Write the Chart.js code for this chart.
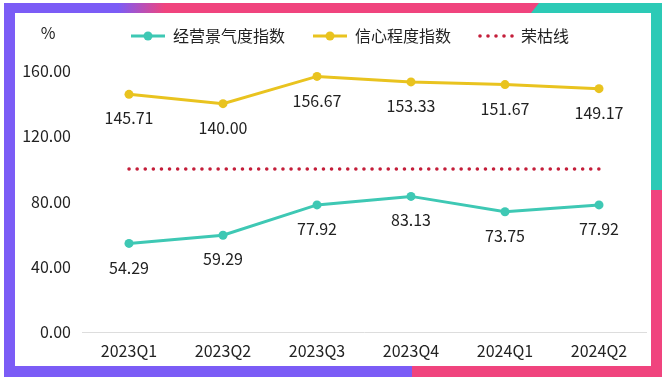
<!DOCTYPE html>
<html>
<head>
<meta charset="utf-8">
<script src="https://cdn.jsdelivr.net/npm/chart.js@4.4.1/dist/chart.umd.min.js"></script>
<style>
  body { margin: 0; background: #fff; }
  #wrap { width: 668px; height: 382px; position: relative; }
</style>
</head>
<body>
<div id="wrap"><canvas id="indexChart"></canvas></div>
<script>
// data
const quarters = ['2023Q1', '2023Q2', '2023Q3', '2023Q4', '2024Q1', '2024Q2'];
const businessIndex = [54.29, 59.29, 77.92, 83.13, 73.75, 77.92];
const confidenceIndex = [145.71, 140.00, 156.67, 153.33, 151.67, 149.17];
const boomLine = [100, 100, 100, 100, 100, 100];
const yTicks = [0, 40, 80, 120, 160];

const FONT = '"Noto Sans CJK SC", "Noto Sans", sans-serif';
const TEAL = '#3ec8b4';
const YELLOW = '#e9c31f';
const RED = '#c41e3a';

// legend symbols: line with a dot, or a row of dots
function lineIcon(color) {
    const c = document.createElement('canvas');
    c.width = 34; c.height = 10;
    const g = c.getContext('2d');
    g.strokeStyle = color; g.lineWidth = 3;
    g.beginPath(); g.moveTo(0, 5); g.lineTo(34, 5); g.stroke();
    g.fillStyle = color;
    g.beginPath(); g.arc(17, 5, 4.5, 0, Math.PI * 2); g.fill();
    return c;
}
function dotsIcon(color) {
    const c = document.createElement('canvas');
    c.width = 38; c.height = 10;
    const g = c.getContext('2d');
    g.fillStyle = color;
    for (let i = 0; i < 5; i++) {
        g.beginPath(); g.arc(3 + i * 8, 5, 1.8, 0, Math.PI * 2); g.fill();
    }
    return c;
}
const icons = [lineIcon(TEAL), lineIcon(YELLOW), dotsIcon(RED)];

// frame around the card
const framePlugin = {
    id: 'frame',
    beforeDraw(chart) {
        const g = chart.ctx;
        g.save();
        g.fillStyle = '#fff';
        g.fillRect(0, 0, chart.width, chart.height);
        const purple = '#7b5cf6', pink = '#f0447e', teal = '#2ccab6';
        // top band
        const grad = g.createLinearGradient(118, 0, 165, 0);
        grad.addColorStop(0, purple);
        grad.addColorStop(1, pink);
        g.fillStyle = grad;
        g.fillRect(4, 3, 540, 10);
        g.fillStyle = teal;
        g.beginPath();
        g.moveTo(539, 3); g.lineTo(662, 3); g.lineTo(662, 13); g.lineTo(531, 13);
        g.closePath(); g.fill();
        // left
        g.fillStyle = purple;
        g.fillRect(4, 3, 11, 374);
        // right
        g.fillStyle = teal;
        g.fillRect(651, 3, 11, 187);
        g.fillStyle = pink;
        g.fillRect(651, 190, 11, 187);
        // bottom
        g.fillStyle = purple;
        g.fillRect(4, 366, 408, 11);
        g.fillStyle = pink;
        g.fillRect(412, 366, 250, 11);
        g.restore();
    }
};

// value labels under the points + unit
const labelPlugin = {
    id: 'valueLabels',
    afterDatasetsDraw(chart) {
        const g = chart.ctx;
        g.save();
        g.font = '16px ' + FONT;
        g.fillStyle = '#222';
        g.textAlign = 'center';
        g.textBaseline = 'middle';
        [0, 1].forEach(di => {
            const meta = chart.getDatasetMeta(di);
            const vals = chart.data.datasets[di].data;
            meta.data.forEach((pt, i) => {
                g.fillText(vals[i].toFixed(2), pt.x, pt.y + 24);
            });
        });
        g.fillText('%', 48, 33);
        g.restore();
    }
};

// extra room under legend, and nudge it right a bit
const legendGap = {
    id: 'legendGap',
    beforeInit(chart) {
        const fit = chart.legend.fit;
        chart.legend.fit = function () {
            fit.bind(chart.legend)();
            this.height += 17;
        };
    },
    afterLayout(chart) {
        chart.legend.left += 22;
        chart.legend.right += 22;
    }
};

const ctx = document.getElementById('indexChart').getContext('2d');
new Chart(ctx, {
    type: 'line',
    data: {
        labels: quarters,
        datasets: [{
            label: '经营景气度指数',
            data: businessIndex,
            borderColor: TEAL,
            backgroundColor: TEAL,
            borderWidth: 3,
            pointRadius: 4.5,
            pointBorderWidth: 0,
            tension: 0
        }, {
            label: '信心程度指数',
            data: confidenceIndex,
            borderColor: YELLOW,
            backgroundColor: YELLOW,
            borderWidth: 3,
            pointRadius: 4.5,
            pointBorderWidth: 0,
            tension: 0
        }, {
            label: '荣枯线',
            data: boomLine,
            borderColor: RED,
            backgroundColor: RED,
            borderWidth: 3.5,
            borderDash: [0.1, 8],
            borderCapStyle: 'round',
            pointRadius: 0,
            tension: 0
        }]
    },
    options: {
        responsive: true,
        maintainAspectRatio: false,
        animation: false,
        events: [],
        layout: { padding: { left: 10, right: 22, top: 0, bottom: 0 } },
        scales: {
            x: {
                offset: true,
                grid: { display: false, drawTicks: false },
                border: { display: true, color: '#dddddd', width: 1 },
                ticks: { color: '#222', font: { size: 16, family: FONT }, padding: 9, maxRotation: 0 },
                afterFit(scale) { scale.height = 50; }
            },
            y: {
                min: 0,
                max: 160,
                afterBuildTicks(scale) { scale.ticks = yTicks.map(v => ({ value: v })); },
                grid: { display: false, drawTicks: false },
                border: { display: false },
                ticks: {
                    color: '#222',
                    font: { size: 16, family: FONT },
                    padding: 11,
                    callback: v => v.toFixed(2)
                },
                afterFit(scale) { scale.width = 72; }
            }
        },
        plugins: {
            legend: {
                display: true,
                position: 'top',
                labels: {
                    usePointStyle: true,
                    pointStyleWidth: 34,
                    color: '#222',
                    font: { size: 16, family: FONT },
                    padding: 28,
                    generateLabels(chart) {
                        return chart.data.datasets.map((ds, i) => ({
                            text: ds.label,
                            pointStyle: icons[i],
                            fillStyle: ds.borderColor,
                            strokeStyle: ds.borderColor,
                            lineWidth: 0,
                            fontColor: '#222',
                            datasetIndex: i,
                            hidden: false
                        }));
                    }
                }
            },
            tooltip: { enabled: false }
        }
    },
    plugins: [framePlugin, labelPlugin, legendGap]
});
</script>
</body>
</html>
